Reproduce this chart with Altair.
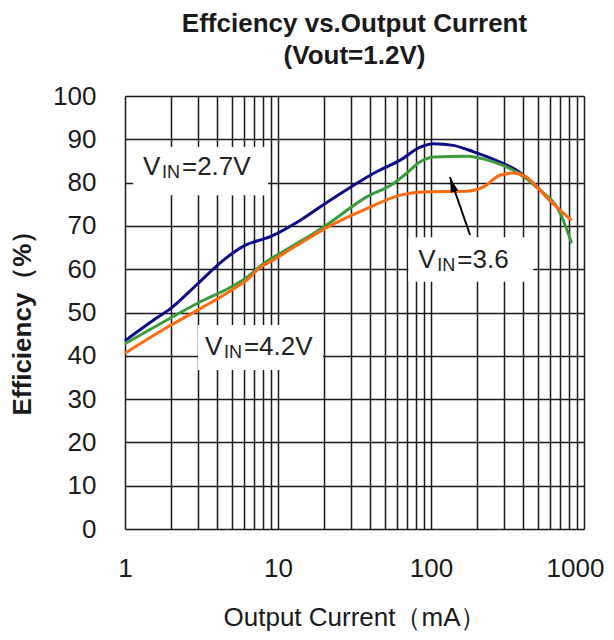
import altair as alt
import pandas as pd

# ---------------- data ----------------
cur_27 = [1, 1.5, 2, 3, 4.4, 6, 8.9, 14, 20, 30, 44, 63, 85, 104, 140, 190, 280, 360, 515, 630]
eff_27 = [43.5, 48.0, 51.0, 56.7, 62.1, 65.4, 67.5, 71.3, 75.0, 79.0, 82.5, 85.2, 88.2, 89.0, 88.6, 87.1, 84.8, 82.9, 78.3, 75.0]

cur_36 = [1, 2, 3, 5, 6.3, 7.5, 8.6, 10.5, 20, 38, 57, 69, 85, 104, 170, 255, 360, 515, 700, 830]
eff_36 = [42.8, 48.8, 52.2, 56.0, 58.2, 60.4, 62.0, 63.8, 69.8, 76.7, 79.8, 82.1, 84.8, 85.9, 86.1, 84.8, 82.5, 78.3, 72.9, 66.0]

cur_42 = [1, 2, 3, 5, 6.3, 7.6, 9.3, 14, 23, 38, 63, 94, 170, 220, 282, 345, 420, 540, 700, 830]
eff_42 = [40.6, 47.1, 50.6, 55.2, 57.6, 60.3, 62.1, 66.0, 70.4, 74.0, 77.1, 77.9, 78.0, 79.0, 81.7, 82.2, 81.3, 77.5, 73.6, 71.3]

series_names = ["VIN=2.7V", "VIN=3.6V", "VIN=4.2V"]
series_colors = ["#0c0c8a", "#3c9c3c", "#ff6a10"]

x_ticks = [1, 2, 3, 4, 5, 6, 7, 8, 9,
           10, 20, 30, 40, 50, 60, 70, 80, 90,
           100, 200, 300, 400, 500, 600, 700, 800, 900, 1000]
x_label_ticks = [1, 10, 100, 1000]
y_ticks = [0, 10, 20, 30, 40, 50, 60, 70, 80, 90, 100]

# annotation labels (V + subscript IN + rest), anchors in data units
ann_base = ["V", "V", "V"]
ann_sub = ["IN", "IN", "IN"]
ann_rest = ["=2.7V", "=3.6", "=4.2V"]
ann_x = [1.31, 82.6, 3.33]
ann_y = [81.7, 60.2, 40.2]

# white boxes behind the labels (data units)
box_x0 = [1.13, 71.1, 3.0]
box_x1 = [8.6, 466, 19.7]
box_y0 = [77.1, 57.1, 36.7]
box_y1 = [88.2, 67.4, 47.1]

# arrow from the 3.6 label to the green curve
arrow_tail = [180, 67.9]
arrow_tip = [133, 81.3]
arrow_head = [137.7, 79.5]

title_lines = ["Effciency vs.Output Current", "(Vout=1.2V)"]
x_title = "Output Current（mA）"
y_title = "Efficiency（%）"

# ---------------- chart ----------------
FONT = "Liberation Sans"
INK = "#1a1a1a"

xs = alt.Scale(type="log", domain=[1, 1000])
ys = alt.Scale(domain=[0, 100])

x_axis = alt.Axis(
    values=x_ticks,
    labelExpr="indexof([1,10,100,1000], datum.value) >= 0 ? format(datum.value, 'd') : ''",
    grid=True, gridColor=INK, gridWidth=1.5, gridOpacity=1,
    ticks=False, domain=False,
    labelFont=FONT, labelFontSize=26, labelColor=INK, labelPadding=26,
    labelOverlap=False, labelFlush=False,
    labelOffset={"condition": {"test": "datum.value == 1000", "value": -9}, "value": 0},
    titleFont=FONT, titleFontSize=26, titleFontWeight="normal", titleColor=INK,
    titleBaseline="alphabetic", titleY=96,
)
y_axis = alt.Axis(
    values=y_ticks,
    grid=True, gridColor=INK, gridWidth=1.5, gridOpacity=1,
    ticks=False, domain=False,
    labelFont=FONT, labelFontSize=26, labelColor=INK, labelPadding=29,
    titleFont=FONT, titleFontSize=26, titleFontWeight="bold", titleColor=INK,
    titleAngle=270, titleAlign="center", titleBaseline="alphabetic",
    titleX=-95, titleY=220,
)

X = alt.X("current:Q", scale=xs, axis=x_axis, title=x_title)
Y = alt.Y("eff:Q", scale=ys, axis=y_axis, title=y_title)

boxes = pd.DataFrame({"current": box_x0, "current_end": box_x1,
                      "eff": box_y0, "eff_end": box_y1})
box_layer = alt.Chart(boxes).mark_rect(color="white", opacity=1).encode(
    x=X, x2="current_end:Q", y=Y, y2="eff_end:Q")

layers = [box_layer]
for name, cx, cy, col in zip(series_names,
                             [cur_27, cur_36, cur_42],
                             [eff_27, eff_36, eff_42],
                             series_colors):
    d = pd.DataFrame({"current": cx, "eff": cy, "series": name})
    layers.append(
        alt.Chart(d).mark_line(strokeWidth=3, interpolate="monotone", color=col).encode(
            x=X, y=Y)
    )

ann = pd.DataFrame({"current": ann_x, "eff": ann_y,
                    "base": ann_base, "sub": ann_sub, "rest": ann_rest})
txt_common = dict(font=FONT, color="#222222", align="left", baseline="alphabetic")
layers.append(alt.Chart(ann).mark_text(fontSize=26, dx=0, **txt_common).encode(
    x=X, y=Y, text="base:N"))
layers.append(alt.Chart(ann).mark_text(fontSize=18, dx=19, dy=3, **txt_common).encode(
    x=X, y=Y, text="sub:N"))
layers.append(alt.Chart(ann).mark_text(fontSize=26, dx=39, **txt_common).encode(
    x=X, y=Y, text="rest:N"))

arrow = pd.DataFrame({"current": [arrow_tail[0]], "eff": [arrow_tail[1]],
                      "current_end": [arrow_tip[0]], "eff_end": [arrow_tip[1]]})
layers.append(alt.Chart(arrow).mark_rule(strokeWidth=2, color="black").encode(
    x=X, y=Y, x2="current_end:Q", y2="eff_end:Q"))
head = pd.DataFrame({"current": [arrow_head[0]], "eff": [arrow_head[1]]})
layers.append(alt.Chart(head).mark_point(
    shape="M0,-1L-0.55,1L0.55,1Z", filled=True, size=200, angle=341,
    color="black", opacity=1, strokeWidth=0).encode(x=X, y=Y))

chart = alt.layer(*layers).properties(
    width=459, height=433,
    title=alt.TitleParams(text=title_lines, font=FONT, fontSize=26, fontWeight="bold",
                          color=INK, anchor="middle", lineHeight=32, offset=14),
    padding={"left": 117, "top": 88, "right": 22, "bottom": 103},
    autosize=alt.AutoSizeParams(type="none"),
).configure_view(stroke=INK, strokeWidth=2).configure(background="white")

chart.save("out.html", embed_options={"renderer": "svg", "actions": False})
